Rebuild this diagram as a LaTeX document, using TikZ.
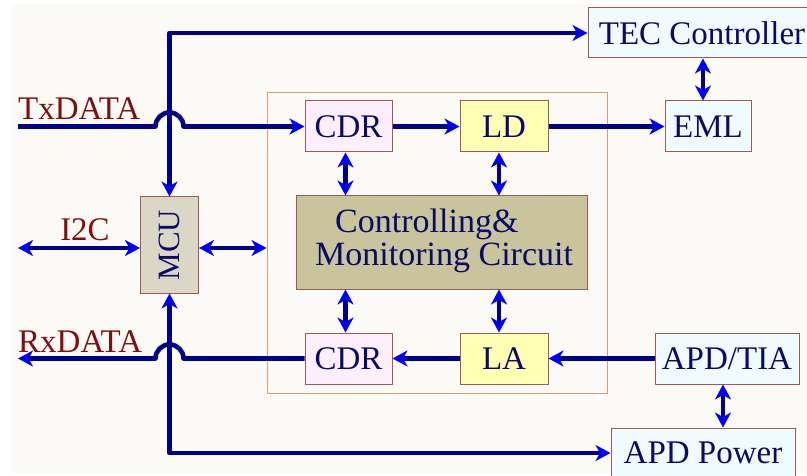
\documentclass[tikz,border=0pt]{standalone}
\usepackage{fontspec}
\setmainfont{Liberation Serif}
\usetikzlibrary{arrows.meta,calc}
\definecolor{bgcream}{HTML}{FCFAF6}
\definecolor{navy}{HTML}{00008A}
\definecolor{tipblue}{HTML}{0000FF}
\definecolor{txtnavy}{HTML}{0A0A68}
\definecolor{lblred}{HTML}{800F0F}
\definecolor{boxedge}{HTML}{9A5C55}
\definecolor{outeredge}{HTML}{D0A070}
\definecolor{pinkfill}{HTML}{FDF0FC}
\definecolor{yellowfill}{HTML}{FFFFB4}
\definecolor{cyanfill}{HTML}{EEFCFF}
\definecolor{khaki}{HTML}{C9C49C}
\definecolor{mcufill}{HTML}{DAD7C6}
\begin{document}
\begin{tikzpicture}[x=1pt,y=1pt,
  box/.style={draw=boxedge, line width=1pt, inner sep=0pt, font=\fontsize{33}{36}\selectfont, text=txtnavy, minimum height=51pt},
  wire/.style={draw=navy, line width=4.6pt, line join=round},
  Hd/.tip={Stealth[length=15pt,width=16pt,inset=4.5pt,color=tipblue]},
  lbl/.style={inner sep=0pt, font=\fontsize{33}{36}\selectfont, text=lblred},
  ctxt/.style={inner sep=0pt, font=\fontsize{34}{36}\selectfont, text=txtnavy}]
\fill[white] (0,0) rectangle (807,475);
\fill[bgcream] (11,2) rectangle (807,471);
\useasboundingbox (0,0) rectangle (807,475);

\node[draw=outeredge, line width=1pt, inner sep=0pt, minimum width=340pt, minimum height=300pt] (outer) at (437,232) {};

\node[box, fill=cyanfill, minimum width=228pt, minimum height=50pt] (TEC) at (702,442) {TEC Controller};
\node[box, fill=pinkfill, minimum width=87pt] (CDRa) at (348.5,348.5) {CDR};
\node[box, fill=yellowfill, minimum width=88pt] (LD) at (504,348.5) {LD};
\node[box, fill=cyanfill, minimum width=86pt] (EML) at (708,348.5) {EML};
\node[box, fill=khaki, minimum width=291pt, minimum height=93pt] (Ctrl) at (441.5,232.5) {};
\node[ctxt, anchor=base west] (ctrlA) at (335,243) {Controlling\&};
\node[ctxt, anchor=base west] (ctrlB) at (315,210) {Monitoring Circuit};
\node[box, fill=mcufill, minimum width=58pt, minimum height=96pt, font=\fontsize{31}{34}\selectfont] (MCU) at (169.5,230) {\rotatebox{90}{MCU}};
\node[box, fill=pinkfill, minimum width=87pt] (CDRb) at (348.5,116.5) {CDR};
\node[box, fill=yellowfill, minimum width=88pt] (LA) at (504,116.5) {LA};
\node[box, fill=cyanfill, minimum width=144pt] (APDT) at (727,116.5) {APD/TIA};
\node[box, fill=cyanfill, minimum width=184pt, minimum height=50pt] (APDP) at (703,22) {APD Power};

\node[lbl, anchor=base west] (tx) at (18,355) {TxDATA};
\node[lbl, anchor=base] (i2clbl) at (85,235) {I2C};
\node[lbl, anchor=base west] (rx) at (18,123) {RxDATA};

\coordinate (txs) at (18,348.5);
\coordinate (rxe) at (18,116.5);
\coordinate (i2c) at (18,227);

\draw[wire, Hd-Hd] (TEC.west) -| (MCU.north);
\draw[wire, Hd-Hd] (APDP.west) -| (MCU.south);
\draw[wire, -Hd] (txs) -- ($(txs -| MCU.north)+(-14,0)$) arc[start angle=180, end angle=0, radius=14] -- (CDRa.west);
\draw[wire, -Hd] (CDRb.west) -- ($(rxe -| MCU.north)+(14,0)$) arc[start angle=0, end angle=180, radius=14] -- (rxe);
\draw[wire, Hd-Hd] (i2c) -- (i2c -| MCU.west);
\draw[wire, Hd-Hd] (i2c -| MCU.east) -- (i2c -| outer.west);
\draw[wire, -Hd] (CDRa.east) -- (LD.west);
\draw[wire, -Hd] (LD.east) -- (EML.west);
\draw[wire, Hd-Hd] ([xshift=-5pt]EML.north) -- ([xshift=-5pt]EML.north |- TEC.south);
\draw[wire, Hd-Hd] ([xshift=-3pt]CDRa.south) -- ([xshift=-3pt]CDRa.south |- Ctrl.north);
\draw[wire, Hd-Hd] ([xshift=-5pt]LD.south) -- ([xshift=-5pt]LD.south |- Ctrl.north);
\draw[wire, Hd-Hd] ([xshift=-3pt]CDRb.north) -- ([xshift=-3pt]CDRb.north |- Ctrl.south);
\draw[wire, Hd-Hd] ([xshift=-5pt]LA.north) -- ([xshift=-5pt]LA.north |- Ctrl.south);
\draw[wire, -Hd] (LA.west) -- (CDRb.east);
\draw[wire, -Hd] (APDT.west) -- (LA.east);
\draw[wire, Hd-Hd] ([xshift=-4pt]APDT.south) -- ([xshift=-4pt]APDT.south |- APDP.north);
\end{tikzpicture}
\end{document}
